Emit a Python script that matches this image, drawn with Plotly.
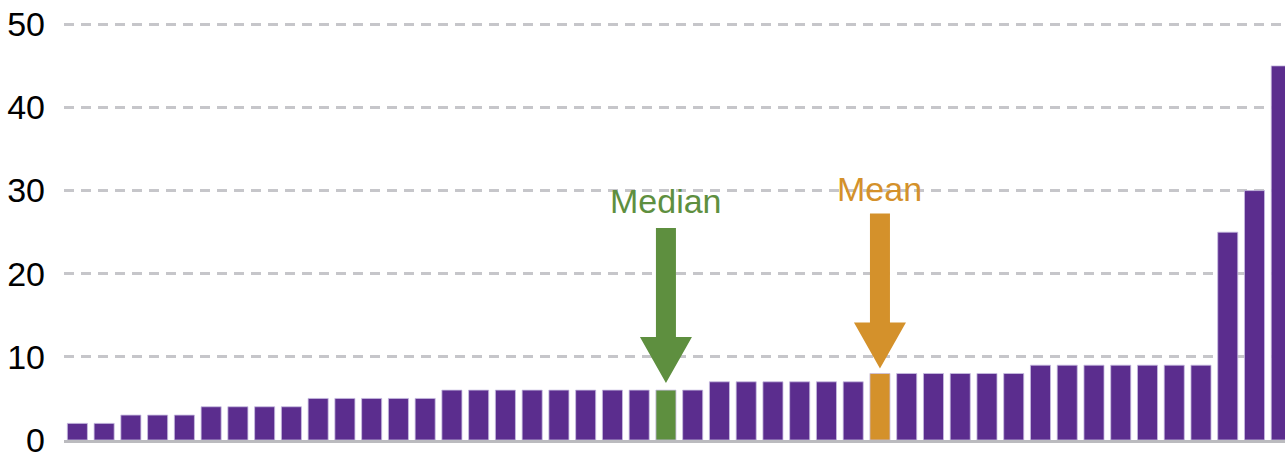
import plotly.graph_objects as go
import numpy as np

values = [2, 2, 3, 3, 3, 4, 4, 4, 4, 5, 5, 5, 5, 5,
          6, 6, 6, 6, 6, 6, 6, 6, 6, 6,
          7, 7, 7, 7, 7, 7,
          8, 8, 8, 8, 8, 8,
          9, 9, 9, 9, 9, 9, 9,
          25, 30, 45]
y_ticks = [0, 10, 20, 30, 40, 50]
labels = ["Median", "Mean"]

PURPLE = "#5B2D8E"
GREEN = "#5E8F3F"
ORANGE = "#D4912B"
FONT = "Liberation Sans, Arial"

n = len(values)
x = list(range(n))
median_idx = (n - 1) // 2
mean_val = float(np.mean(values))
mean_idx = next(i for i, v in enumerate(values) if v >= mean_val)

colors = [PURPLE] * n
colors[median_idx] = GREEN
colors[mean_idx] = ORANGE

fig = go.Figure()
fig.add_trace(go.Bar(
    x=x, y=values,
    marker=dict(color=colors, line=dict(color="rgba(200,190,225,0.8)", width=1)),
    hoverinfo="y",
))


def arrow_path(shaft_top, head_top, tip, shaft_half=10, head_half=26):
    return (f"M {-shaft_half},{shaft_top} L {shaft_half},{shaft_top} "
            f"L {shaft_half},{head_top} L {head_half},{head_top} L 0,{tip} "
            f"L {-head_half},{head_top} L {-shaft_half},{head_top} Z")


for idx, col, geom, label, shift in [
    (median_idx, GREEN, (162, 53, 7), labels[0], 189),
    (mean_idx, ORANGE, (160, 51, 5), labels[1], 184),
]:
    fig.add_shape(
        type="path", xref="x", yref="y",
        xsizemode="pixel", ysizemode="pixel",
        xanchor=idx, yanchor=values[idx],
        path=arrow_path(*geom),
        fillcolor=col, line=dict(width=0),
    )
    fig.add_annotation(
        x=idx, y=values[idx], xref="x", yref="y",
        text=label, showarrow=False, yanchor="middle", yshift=shift,
        font=dict(family=FONT, size=34, color=col),
    )

fig.update_layout(
    width=1285, height=454,
    margin=dict(l=64, r=0, t=16, b=14, autoexpand=False),
    paper_bgcolor="white", plot_bgcolor="white",
    showlegend=False, bargap=0.25,
    font=dict(family=FONT, size=34, color="#000000"),
)
fig.update_xaxes(
    range=[-0.5, 45.14], showticklabels=False, showgrid=False, zeroline=False,
    showline=True, linecolor="#BBBBBF", linewidth=2.5, ticks="", automargin=False,
)
fig.update_yaxes(
    range=[0, 51], tickvals=y_ticks, showgrid=True, gridcolor="#C6C6CA",
    gridwidth=2.5, griddash="10px,7px", zeroline=False, showline=False,
    ticks="", ticklabelstandoff=18, automargin=False, ticklabeloverflow="allow",
    tickfont=dict(family=FONT, size=34, color="#000000"),
)

fig.write_html(
    "out.html",
    config={"displayModeBar": False},
    post_script="document.body.style.margin='0';document.body.style.overflow='hidden';",
)
